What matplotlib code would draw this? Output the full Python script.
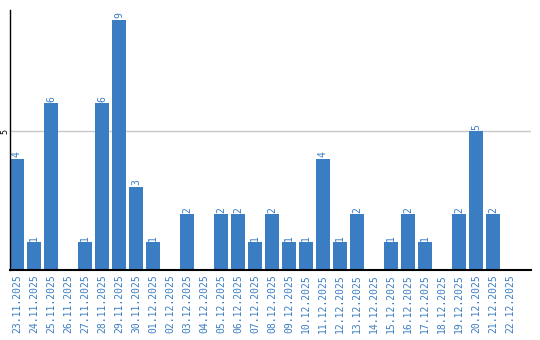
import numpy as np
import matplotlib.pyplot as plt

dates = ['23.11.2025', '24.11.2025', '25.11.2025', '26.11.2025', '27.11.2025',
         '28.11.2025', '29.11.2025', '30.11.2025', '01.12.2025', '02.12.2025',
         '03.12.2025', '04.12.2025', '05.12.2025', '06.12.2025', '07.12.2025',
         '08.12.2025', '09.12.2025', '10.12.2025', '11.12.2025', '12.12.2025',
         '13.12.2025', '14.12.2025', '15.12.2025', '16.12.2025', '17.12.2025',
         '18.12.2025', '19.12.2025', '20.12.2025', '21.12.2025', '22.12.2025']
counts = [4, 1, 6, 0, 1, 6, 9, 3, 1, 0,
          2, 0, 2, 2, 1, 2, 1, 1, 4, 1,
          2, 0, 1, 2, 1, 0, 2, 5, 2, 0]

blue = '#3b7dc2'
mono = 'DejaVu Sans Mono'

fig = plt.figure(figsize=(5.4, 3.4), dpi=100)
# axes box in pixels: left 10, right 531, top 10, bottom 270
ax = fig.add_axes([10 / 540, 70 / 340, 521 / 540, 260 / 340])

x = np.arange(len(dates))
w = 14 / 17
ax.bar(x, counts, width=w, color=blue, zorder=2)
ax.set_xlim(-w / 2, -w / 2 + 521 / 17)
ax.set_ylim(0, 260 / 27.8)

ax.axhline(5, color='#c8c8c8', linewidth=1, zorder=1)

for xi, v in zip(x, counts):
    if v > 0:
        ax.text(xi, v + 0.05, str(v), rotation=90, ha='center', va='bottom',
                color=blue, fontsize=7, family=mono)

ax.set_xticks(x)
ax.set_xticklabels(dates, rotation=90, color=blue, fontsize=7, family=mono)
ax.set_yticks([5])
ax.set_yticklabels(['5'], rotation=90, fontsize=6, family=mono, va='center')
ax.tick_params(axis='both', length=0, pad=3)
ax.tick_params(axis='y', pad=0.5)

for s in ['top', 'right']:
    ax.spines[s].set_visible(False)
ax.spines['left'].set_linewidth(1)
ax.spines['bottom'].set_linewidth(1.5)

fig.savefig('out.png', dpi=100)
